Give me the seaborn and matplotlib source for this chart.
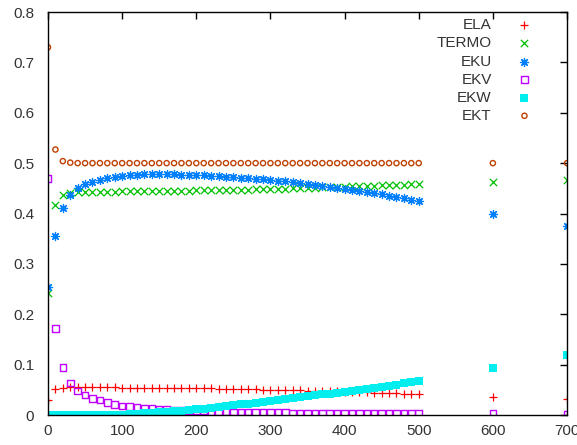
import numpy as np
import pandas as pd
import seaborn as sns
import matplotlib
matplotlib.use('Agg')
import matplotlib.pyplot as plt
from matplotlib.ticker import MultipleLocator, FuncFormatter

# time steps: every 10 up to 500, then 600 and 700
steps = list(range(0, 510, 10)) + [600, 700]

ela = [0.030, 0.052, 0.053, 0.055, 0.055, 0.055, 0.055, 0.055, 0.055, 0.055,
       0.054, 0.054, 0.054, 0.054, 0.054, 0.054, 0.054, 0.054, 0.053, 0.053,
       0.053, 0.053, 0.053, 0.052, 0.052, 0.052, 0.051, 0.051, 0.051, 0.050,
       0.050, 0.050, 0.049, 0.049, 0.049, 0.048, 0.048, 0.047, 0.047, 0.047,
       0.046, 0.046, 0.045, 0.045, 0.044, 0.044, 0.043, 0.043, 0.042, 0.041,
       0.041, 0.036, 0.031]

termo = [0.242, 0.417, 0.436, 0.440, 0.442, 0.442, 0.443, 0.443, 0.443, 0.443,
         0.444, 0.444, 0.444, 0.444, 0.444, 0.444, 0.445, 0.445, 0.445, 0.445,
         0.446, 0.446, 0.446, 0.446, 0.447, 0.447, 0.447, 0.447, 0.448, 0.448,
         0.449, 0.449, 0.449, 0.450, 0.450, 0.451, 0.451, 0.452, 0.452, 0.453,
         0.453, 0.454, 0.454, 0.455, 0.455, 0.456, 0.456, 0.457, 0.457, 0.458,
         0.458, 0.463, 0.466]

eku = [0.255, 0.355, 0.410, 0.437, 0.450, 0.458, 0.463, 0.467, 0.471, 0.473,
       0.475, 0.476, 0.477, 0.478, 0.478, 0.479, 0.478, 0.478, 0.477, 0.477,
       0.476, 0.476, 0.475, 0.474, 0.473, 0.472, 0.471, 0.470, 0.469, 0.468,
       0.467, 0.465, 0.464, 0.463, 0.461, 0.459, 0.457, 0.455, 0.453, 0.451,
       0.449, 0.447, 0.445, 0.443, 0.440, 0.438, 0.435, 0.432, 0.430, 0.427,
       0.424, 0.400, 0.375]

ekv = [0.470, 0.172, 0.094, 0.064, 0.048, 0.040, 0.033, 0.030, 0.025, 0.021,
       0.018, 0.017, 0.015, 0.014, 0.013, 0.012, 0.011, 0.010, 0.009, 0.009,
       0.008, 0.008, 0.007, 0.007, 0.007, 0.006, 0.006, 0.006, 0.005, 0.005,
       0.005, 0.005, 0.005, 0.004, 0.004, 0.004, 0.004, 0.004, 0.004, 0.004,
       0.004, 0.003, 0.003, 0.003, 0.003, 0.003, 0.003, 0.003, 0.003, 0.003,
       0.003, 0.003, 0.002]

ekw = [0.000, 0.000, 0.000, 0.000, 0.000, 0.000, 0.001, 0.001, 0.001, 0.001,
       0.001, 0.002, 0.002, 0.003, 0.004, 0.005, 0.006, 0.007, 0.008, 0.009,
       0.011, 0.012, 0.014, 0.015, 0.017, 0.019, 0.021, 0.022, 0.024, 0.026,
       0.028, 0.030, 0.032, 0.033, 0.035, 0.037, 0.039, 0.041, 0.042, 0.044,
       0.046, 0.048, 0.050, 0.052, 0.054, 0.056, 0.058, 0.060, 0.063, 0.065,
       0.068, 0.093, 0.120]

ekt = [0.730, 0.527, 0.504, 0.501, 0.500, 0.500, 0.500, 0.500, 0.500, 0.500,
       0.500, 0.500, 0.500, 0.500, 0.500, 0.500, 0.500, 0.500, 0.500, 0.500,
       0.500, 0.500, 0.500, 0.500, 0.500, 0.500, 0.500, 0.500, 0.500, 0.500,
       0.500, 0.500, 0.500, 0.500, 0.500, 0.500, 0.500, 0.500, 0.500, 0.500,
       0.500, 0.500, 0.500, 0.500, 0.500, 0.500, 0.500, 0.500, 0.500, 0.500,
       0.500, 0.500, 0.500]

df = pd.DataFrame({"t": steps, "ELA": ela, "TERMO": termo, "EKU": eku,
                   "EKV": ekv, "EKW": ekw, "EKT": ekt})

# name, marker, color, size, kind
series = [
    ("ELA", "+", "#ff0000", 28, "line"),
    ("TERMO", "x", "#00c000", 28, "line"),
    ("EKU", (8, 2, 0), "#0080ff", 34, "line"),
    ("EKV", "s", "#c000ff", 22, "open"),
    ("EKW", "s", "#00eeee", 28, "filled"),
    ("EKT", "o", "#c04000", 14, "open"),
]

sns.set_style("white")
plt.rcParams['font.family'] = ['Liberation Sans', 'DejaVu Sans']
plt.rcParams['font.size'] = 11

fig = plt.figure(figsize=(5.77, 4.45), dpi=100)
ax = fig.add_axes([0.0832, 0.0674, 0.8995, 0.9056])


def draw_series(x, y, mk, col, sz, kind, **kw):
    if kind == "line":
        sns.scatterplot(x=x, y=y, marker=mk, color=col, s=sz,
                        linewidth=0.9, ax=ax, **kw)
    elif kind == "filled":
        sns.scatterplot(x=x, y=y, marker=mk, color=col, s=sz,
                        linewidth=0, ax=ax, **kw)
    else:
        sns.scatterplot(x=x, y=y, marker=mk, s=sz, facecolor="none",
                        edgecolor=col, linewidth=1.0, ax=ax, **kw)


for i, (name, mk, col, sz, kind) in enumerate(series):
    draw_series(df["t"], df[name], mk, col, sz, kind)
    # gnuplot style key: label right-aligned, sample to its right
    ky = 0.967 - i * 0.0449
    ax.text(0.855, ky, name, transform=ax.transAxes, ha="right", va="center",
            color="#333333", fontsize=11)
    draw_series([0.918], [ky], mk, col, sz, kind,
                transform=ax.transAxes, clip_on=False)

ax.set_xlim(0, 700)
ax.set_ylim(0, 0.8)
ax.xaxis.set_major_locator(MultipleLocator(100))
ax.yaxis.set_major_locator(MultipleLocator(0.1))
ax.yaxis.set_major_formatter(FuncFormatter(lambda v, p: "%g" % round(v, 2)))
ax.set_xlabel("")
ax.set_ylabel("")
ax.tick_params(direction="in", length=5, width=1, top=True, right=True,
               colors="#000000", labelcolor="#333333", labelsize=11)
ax.tick_params(axis="x", pad=6.5)
ax.tick_params(axis="y", pad=10)
for sp in ax.spines.values():
    sp.set_color("#000000")
    sp.set_linewidth(1.0)
    sp.set_visible(True)

fig.savefig("out.png", dpi=100)
